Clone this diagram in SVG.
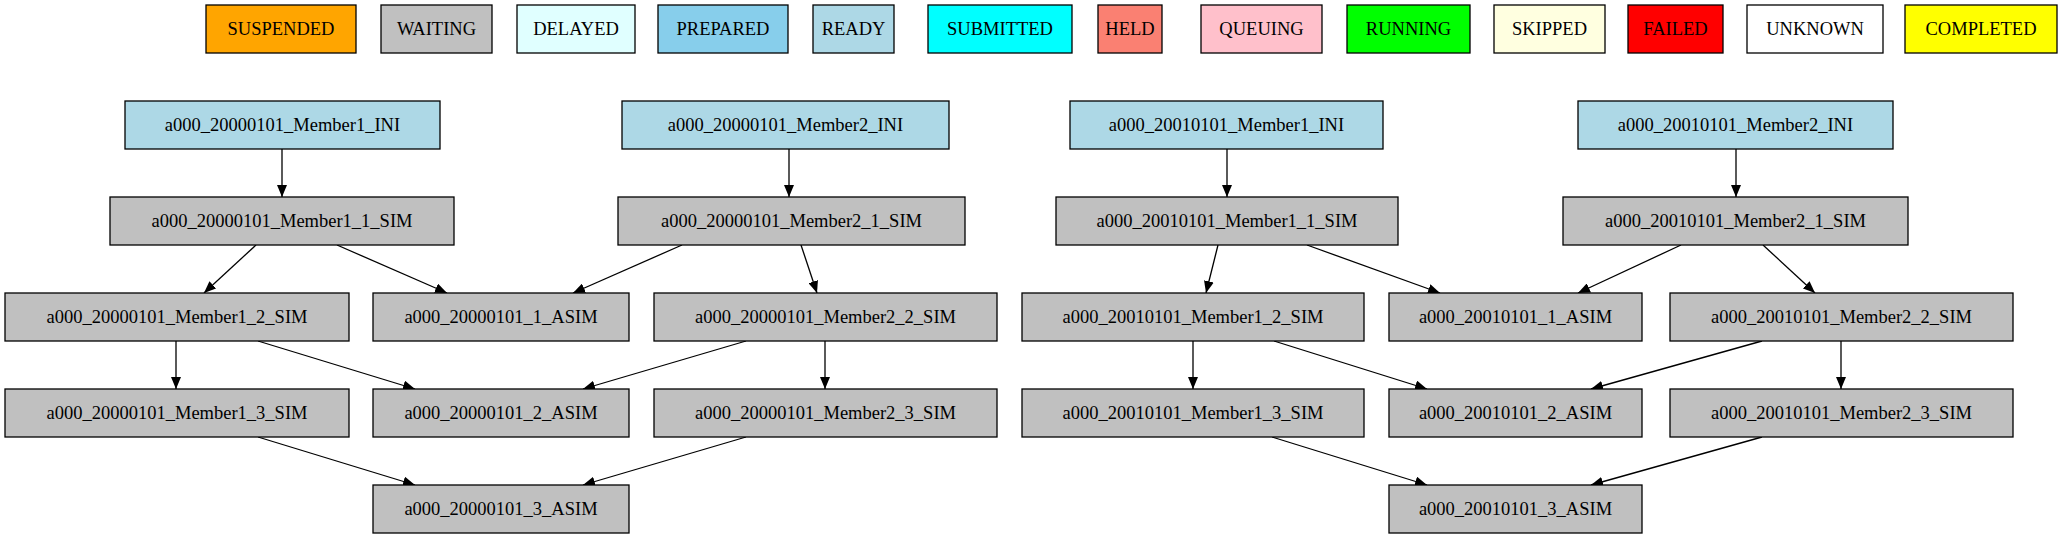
<svg xmlns="http://www.w3.org/2000/svg" width="2062" height="539" viewBox="0 0 2062 539">
<style>
rect{stroke:#000;stroke-width:1.3}
text{font-family:"Liberation Serif","Times New Roman",serif;font-size:18.5px;text-anchor:middle;dominant-baseline:central;fill:#000}
.w{fill:#c0c0c0}.r{fill:#add8e6}
#edges path{stroke:#000;stroke-width:1.3;fill:none;marker-end:url(#ah)}
</style>
<defs><marker id="ah" markerUnits="userSpaceOnUse" markerWidth="12" markerHeight="10" refX="12" refY="5" orient="auto"><path d="M0,0L12,5L0,10z" fill="#000"/></marker></defs>
<rect width="2062" height="539" fill="#fff" style="stroke:none"/>
<g id="legend">
<g id="l1"><rect x="206" y="5" width="150" height="48" fill="#ffa500"/><text x="281" y="29">SUSPENDED</text></g>
<g id="l2"><rect x="381" y="5" width="111" height="48" fill="#c0c0c0"/><text x="436.5" y="29">WAITING</text></g>
<g id="l3"><rect x="517" y="5" width="118" height="48" fill="#e0ffff"/><text x="576" y="29">DELAYED</text></g>
<g id="l4"><rect x="658" y="5" width="130" height="48" fill="#87ceeb"/><text x="723" y="29">PREPARED</text></g>
<g id="l5"><rect x="813" y="5" width="81" height="48" fill="#add8e6"/><text x="853.5" y="29">READY</text></g>
<g id="l6"><rect x="928" y="5" width="144" height="48" fill="#00ffff"/><text x="1000" y="29">SUBMITTED</text></g>
<g id="l7"><rect x="1098" y="5" width="64" height="48" fill="#fa8072"/><text x="1130" y="29">HELD</text></g>
<g id="l8"><rect x="1201" y="5" width="121" height="48" fill="#ffc0cb"/><text x="1261.5" y="29">QUEUING</text></g>
<g id="l9"><rect x="1347" y="5" width="123" height="48" fill="#00ff00"/><text x="1408.5" y="29">RUNNING</text></g>
<g id="l10"><rect x="1494" y="5" width="111" height="48" fill="#ffffe0"/><text x="1549.5" y="29">SKIPPED</text></g>
<g id="l11"><rect x="1628" y="5" width="95" height="48" fill="#ff0000"/><text x="1675.5" y="29">FAILED</text></g>
<g id="l12"><rect x="1747" y="5" width="136" height="48" fill="#ffffff"/><text x="1815" y="29">UNKNOWN</text></g>
<g id="l13"><rect x="1905" y="5" width="152" height="48" fill="#ffff00"/><text x="1981" y="29">COMPLETED</text></g>
</g>
<g id="edges">
<path d="M282,149L282,197"/>
<path d="M256,245L204,293"/>
<path d="M337,245L447,293"/>
<path d="M789,149L789,197"/>
<path d="M682,245L573,293"/>
<path d="M801,245L817,293"/>
<path d="M176,341L176,389"/>
<path d="M258,341L415,389"/>
<path d="M746,341L583,389"/>
<path d="M825,341L825,389"/>
<path d="M258,437L415,485"/>
<path d="M746,437L583,485"/>
<path d="M1227,149L1227,197"/>
<path d="M1218,245L1206,293"/>
<path d="M1307,245L1440,293"/>
<path d="M1736,149L1736,197"/>
<path d="M1681,245L1578,293"/>
<path d="M1763,245L1815,293"/>
<path d="M1193,341L1193,389"/>
<path d="M1274,341L1427,389"/>
<path d="M1762,341L1591,389"/>
<path d="M1841,341L1841,389"/>
<path d="M1272,437L1427,485"/>
<path d="M1762,437L1591,485"/>
</g>
<g id="n1"><rect class="r" x="125" y="101" width="315" height="48"/><text x="282.5" y="125">a000_20000101_Member1_INI</text></g>
<g id="n2"><rect class="r" x="622" y="101" width="327" height="48"/><text x="785.5" y="125">a000_20000101_Member2_INI</text></g>
<g id="n3"><rect class="r" x="1070" y="101" width="313" height="48"/><text x="1226.5" y="125">a000_20010101_Member1_INI</text></g>
<g id="n4"><rect class="r" x="1578" y="101" width="315" height="48"/><text x="1735.5" y="125">a000_20010101_Member2_INI</text></g>
<g id="n5"><rect class="w" x="110" y="197" width="344" height="48"/><text x="282" y="221">a000_20000101_Member1_1_SIM</text></g>
<g id="n6"><rect class="w" x="618" y="197" width="347" height="48"/><text x="791.5" y="221">a000_20000101_Member2_1_SIM</text></g>
<g id="n7"><rect class="w" x="1056" y="197" width="342" height="48"/><text x="1227" y="221">a000_20010101_Member1_1_SIM</text></g>
<g id="n8"><rect class="w" x="1563" y="197" width="345" height="48"/><text x="1735.5" y="221">a000_20010101_Member2_1_SIM</text></g>
<g id="n9"><rect class="w" x="5" y="293" width="344" height="48"/><text x="177" y="317">a000_20000101_Member1_2_SIM</text></g>
<g id="n10"><rect class="w" x="373" y="293" width="256" height="48"/><text x="501" y="317">a000_20000101_1_ASIM</text></g>
<g id="n11"><rect class="w" x="654" y="293" width="343" height="48"/><text x="825.5" y="317">a000_20000101_Member2_2_SIM</text></g>
<g id="n12"><rect class="w" x="1022" y="293" width="342" height="48"/><text x="1193" y="317">a000_20010101_Member1_2_SIM</text></g>
<g id="n13"><rect class="w" x="1389" y="293" width="253" height="48"/><text x="1515.5" y="317">a000_20010101_1_ASIM</text></g>
<g id="n14"><rect class="w" x="1670" y="293" width="343" height="48"/><text x="1841.5" y="317">a000_20010101_Member2_2_SIM</text></g>
<g id="n15"><rect class="w" x="5" y="389" width="344" height="48"/><text x="177" y="413">a000_20000101_Member1_3_SIM</text></g>
<g id="n16"><rect class="w" x="373" y="389" width="256" height="48"/><text x="501" y="413">a000_20000101_2_ASIM</text></g>
<g id="n17"><rect class="w" x="654" y="389" width="343" height="48"/><text x="825.5" y="413">a000_20000101_Member2_3_SIM</text></g>
<g id="n18"><rect class="w" x="1022" y="389" width="342" height="48"/><text x="1193" y="413">a000_20010101_Member1_3_SIM</text></g>
<g id="n19"><rect class="w" x="1389" y="389" width="253" height="48"/><text x="1515.5" y="413">a000_20010101_2_ASIM</text></g>
<g id="n20"><rect class="w" x="1670" y="389" width="343" height="48"/><text x="1841.5" y="413">a000_20010101_Member2_3_SIM</text></g>
<g id="n21"><rect class="w" x="373" y="485" width="256" height="48"/><text x="501" y="509">a000_20000101_3_ASIM</text></g>
<g id="n22"><rect class="w" x="1389" y="485" width="253" height="48"/><text x="1515.5" y="509">a000_20010101_3_ASIM</text></g>
</svg>
